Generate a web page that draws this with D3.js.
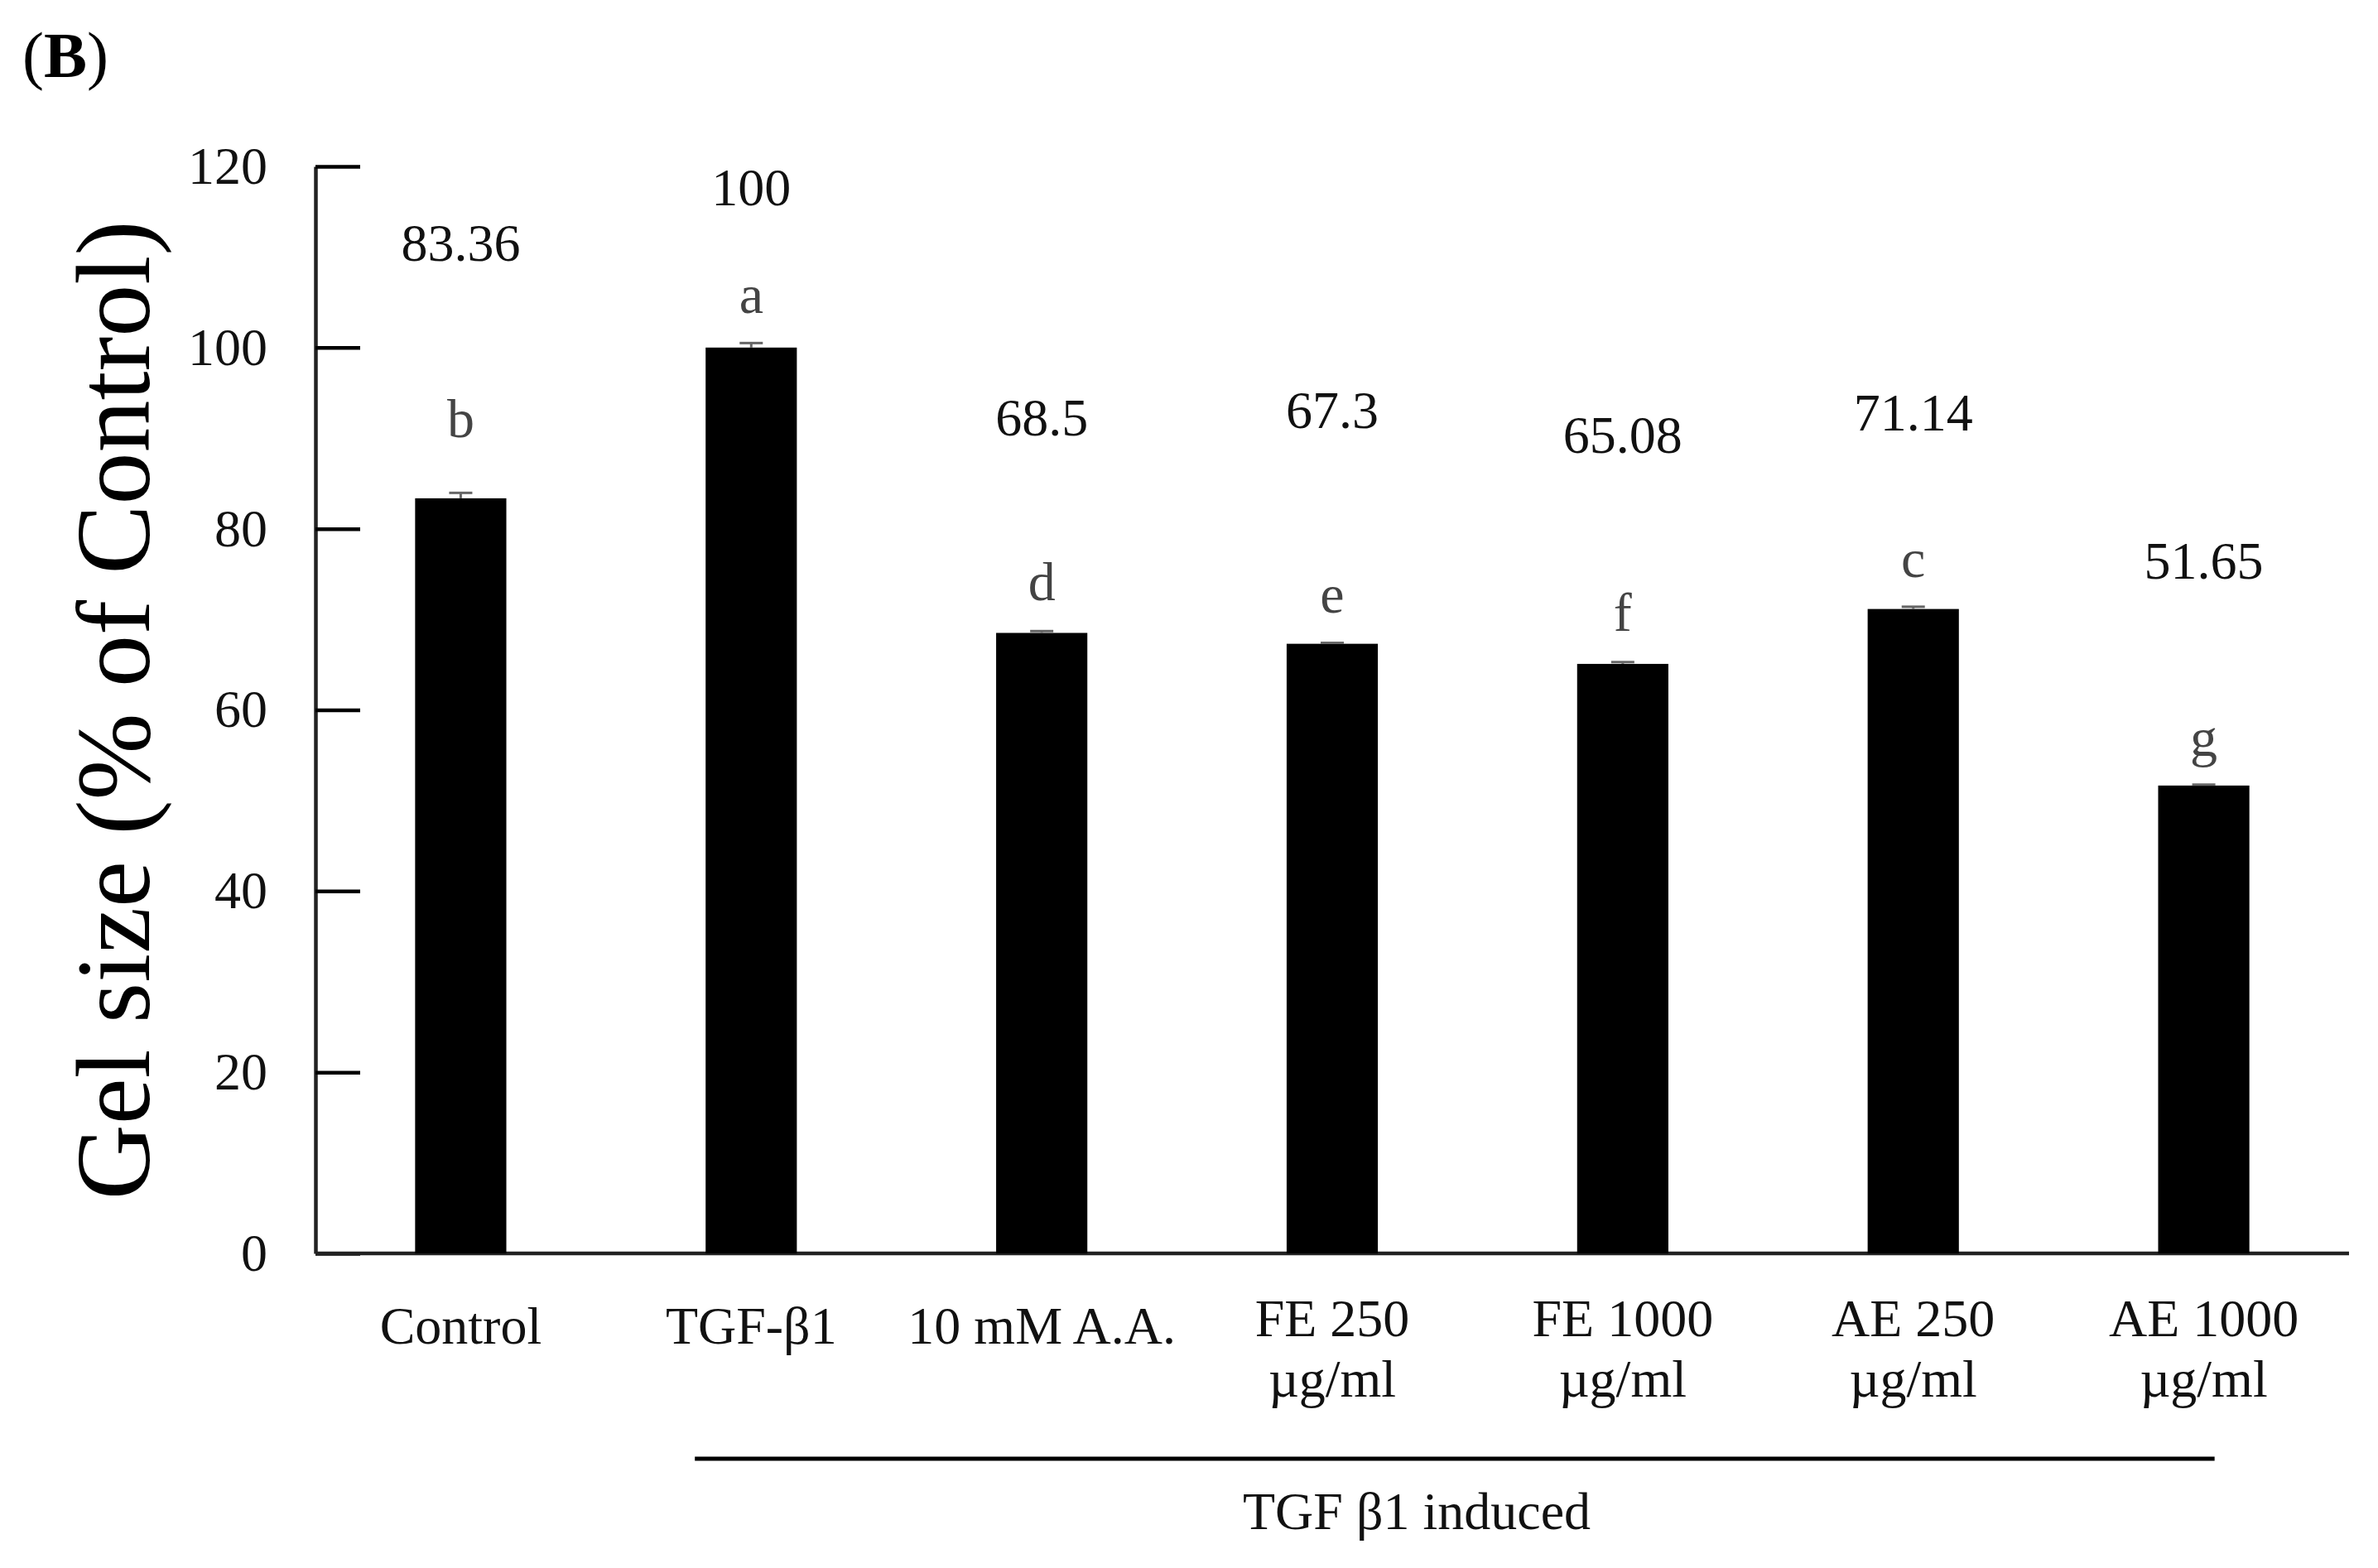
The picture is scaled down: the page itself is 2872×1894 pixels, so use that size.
<!DOCTYPE html>
<html>
<head>
<meta charset="utf-8">
<script src="https://cdn.jsdelivr.net/npm/d3@7"></script>
<style>
  html, body { margin: 0; padding: 0; background: #fff; }
  svg { display: block; }
</style>
</head>
<body>
<svg id="chart"></svg>
<script>
// Gel contraction bar chart
const categories = ["Control", "TGF-β1", "10 mM A.A.", "FE 250 µg/ml", "FE 1000 µg/ml", "AE 250 µg/ml", "AE 1000 µg/ml"];
const catLines = [["Control"], ["TGF-β1"], ["10 mM A.A."], ["FE 250", "µg/ml"], ["FE 1000", "µg/ml"], ["AE 250", "µg/ml"], ["AE 1000", "µg/ml"]];
const values = [83.36, 100, 68.5, 67.3, 65.08, 71.14, 51.65];
const valueText = ["83.36", "100", "68.5", "67.3", "65.08", "71.14", "51.65"];
const errors = [0.6, 0.5, 0.2, 0.1, 0.2, 0.25, 0.1];
const letters = ["b", "a", "d", "e", "f", "c", "g"];
// heights (in axis units) where the annotations sit
const valueLevels = [109.6, 115.7, 90.3, 91.1, 88.4, 90.8, 74.5];
const letterLevels = [90.1, 103.8, 72.1, 70.7, 68.7, 74.7, 54.9];
const yTicks = [0, 20, 40, 60, 80, 100, 120];

const W = 2872, H = 1894;
const FONT = "'Liberation Serif', 'Times New Roman', serif";

const svg = d3.select("#chart").attr("width", W).attr("height", H);

const x = d3.scaleBand().domain(categories).range([381, 2837]).paddingInner(0.686).paddingOuter(0.343);
const y = d3.scaleLinear().domain([0, 120]).range([1514, 201]);

// Panel letter
svg.append("text")
  .attr("x", 27).attr("y", 93)
  .attr("font-family", FONT).attr("font-size", 78).attr("fill", "#000")
  .call(t => {
    t.append("tspan").text("(");
    t.append("tspan").attr("font-weight", "bold").text("B");
    t.append("tspan").text(")");
  });

// Y axis (ticks pointing inward)
const yAxis = svg.append("g")
  .attr("transform", `translate(${x.range()[0]},0)`)
  .call(d3.axisLeft(y).tickValues(yTicks).tickSizeInner(-54).tickSizeOuter(0).tickPadding(58));
yAxis.select(".domain").attr("stroke", "#222").attr("stroke-width", 4.5);
yAxis.selectAll(".tick line").attr("stroke", "#000").attr("stroke-width", 4.5);
yAxis.selectAll(".tick text")
  .attr("font-family", FONT).attr("font-size", 64).attr("fill", "#111");

// X axis baseline
svg.append("line")
  .attr("x1", x.range()[0]).attr("x2", x.range()[1])
  .attr("y1", y(0)).attr("y2", y(0))
  .attr("stroke", "#222").attr("stroke-width", 4.5);

// Bars
svg.append("g").selectAll("rect")
  .data(values).join("rect")
  .attr("x", (d, i) => x(categories[i]))
  .attr("width", x.bandwidth())
  .attr("y", d => y(d))
  .attr("height", d => y(0) - y(d))
  .attr("fill", "#000");

// Error bars
const eb = svg.append("g").attr("stroke", "#666").attr("stroke-width", 3);
values.forEach((v, i) => {
  const cx = x(categories[i]) + x.bandwidth() / 2;
  eb.append("line").attr("x1", cx).attr("x2", cx).attr("y1", y(v)).attr("y2", y(v + errors[i]));
  eb.append("line").attr("x1", cx - 14).attr("x2", cx + 14).attr("y1", y(v + errors[i])).attr("y2", y(v + errors[i]));
});

// Value labels
svg.append("g").selectAll("text")
  .data(valueText).join("text")
  .attr("x", (d, i) => x(categories[i]) + x.bandwidth() / 2)
  .attr("y", (d, i) => y(valueLevels[i]))
  .attr("text-anchor", "middle")
  .attr("font-family", FONT).attr("font-size", 64).attr("fill", "#111")
  .text(d => d);

// Significance letters
svg.append("g").selectAll("text")
  .data(letters).join("text")
  .attr("x", (d, i) => x(categories[i]) + x.bandwidth() / 2)
  .attr("y", (d, i) => y(letterLevels[i]))
  .attr("text-anchor", "middle")
  .attr("font-family", FONT).attr("font-size", 66).attr("fill", "#444")
  .text(d => d);

// Category labels
const catG = svg.append("g");
catLines.forEach((lines, i) => {
  const t = catG.append("text")
    .attr("x", x(categories[i]) + x.bandwidth() / 2)
    .attr("y", lines.length > 1 ? 1614 : 1623)
    .attr("text-anchor", "middle")
    .attr("font-family", FONT).attr("font-size", 64).attr("fill", "#111");
  lines.forEach((ln, j) => {
    t.append("tspan")
      .attr("x", x(categories[i]) + x.bandwidth() / 2)
      .attr("dy", j === 0 ? 0 : 73)
      .text(ln);
  });
});

// TGF β1 induced bracket
const bx0 = x(categories[1]) - 13, bx1 = x(categories[6]) + x.bandwidth() - 42;
svg.append("line")
  .attr("x1", bx0).attr("x2", bx1).attr("y1", 1762).attr("y2", 1762)
  .attr("stroke", "#000").attr("stroke-width", 5);
svg.append("text")
  .attr("x", 1711).attr("y", 1847)
  .attr("text-anchor", "middle")
  .attr("font-family", FONT).attr("font-size", 64).attr("fill", "#111")
  .text("TGF β1 induced");

// Y axis title
svg.append("text")
  .attr("transform", `translate(180,858) rotate(-90)`)
  .attr("text-anchor", "middle")
  .attr("font-family", FONT).attr("font-size", 126).attr("fill", "#000")
  .text("Gel size (% of Control)");
</script>
</body>
</html>
